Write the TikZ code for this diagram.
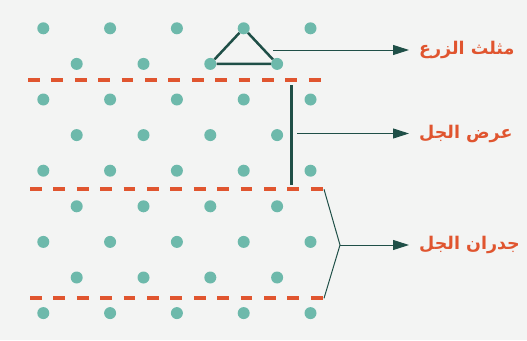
\documentclass[tikz,border=0pt]{standalone}
\usepackage{fontspec}
\newfontfamily\arabicfont[Script=Arabic,BoldFont={DejaVu Sans Bold}]{DejaVu Sans}
\TeXXeTstate=1
\usetikzlibrary{arrows.meta}
\definecolor{dotgreen}{HTML}{6DB9AB}
\definecolor{linegreen}{HTML}{1F4F47}
\definecolor{labelred}{HTML}{E0552F}
\definecolor{paper}{HTML}{F3F4F3}
\tikzset{
  dot/.style={circle,fill=dotgreen,inner sep=0pt,minimum size=12pt},
  gelline/.style={labelred,line width=4pt,dash pattern=on 11.7pt off 11.7pt},
  pointer/.style={linegreen,line width=1pt,-{Triangle[length=16pt,width=10pt]}},
  lbl/.style={anchor=west,inner xsep=10pt,text=labelred,font=\arabicfont\bfseries\fontsize{17.5}{20}\selectfont}
}
\begin{document}
\begin{tikzpicture}[x=1pt,y=-1pt]
        \fill[paper] (0,0) rectangle (527,340);
        \useasboundingbox (0,0) rectangle (527,340);

        % wells
        \foreach \r in {1,3,5,7,9}
          \foreach \c in {1,...,5}
            \node[dot] (d-\r-\c) at ({43.3+66.8*(\c-1)},{28.3+35.6*(\r-1)}) {};
        \foreach \r in {2,4,6,8}
          \foreach \c in {1,...,4}
            \node[dot] (d-\r-\c) at ({76.7+66.8*(\c-1)},{28.3+35.6*(\r-1)}) {};

        % gel walls
        \coordinate (w1a) at (28,80.3);   \coordinate (w1b) at (322,80.3);
        \coordinate (w2a) at (30,189.3);  \coordinate (w2b) at (324,189.3);
        \coordinate (w3a) at (30,298.3);  \coordinate (w3b) at (324,298.3);
        \draw[gelline] (w1a) -- (w1b);
        \draw[gelline] (w2a) -- (w2b);
        \draw[gelline] (w3a) -- (w3b);

        % triangle
        \draw[linegreen,line width=2.5pt] (d-1-4) -- (d-2-3) -- (d-2-4) -- (d-1-4);

        % width
        \coordinate (wtop) at (291.7,85);
        \coordinate (wbot) at (291.7,185);
        \draw[linegreen,line width=2.7pt] (wtop) -- (wbot);

        % bracket
        \coordinate (br) at (340,245);
        \draw[linegreen,line width=1pt] (w2b) -- (br) -- (w3b);

        % labels
        \node[lbl] (zar) at (409,50) {\beginR مثلث الزرع\endR};
        \node[lbl] (ard) at (409,133.5) {\beginR عرض الجل\endR};
        \node[lbl] (jud) at (409,245) {\beginR جدران الجل\endR};

        \coordinate (p1) at (273,50);
        \coordinate (p2) at (297.3,133.5);
        \draw[pointer] (p1) -- (zar.west);
        \draw[pointer] (p2) -- (ard.west);
        \draw[pointer] (br) -- (jud.west);
\end{tikzpicture}
\end{document}
